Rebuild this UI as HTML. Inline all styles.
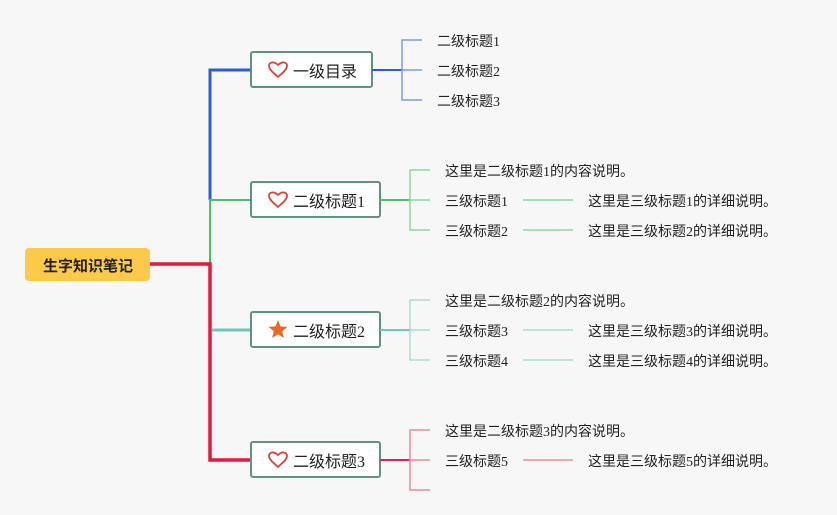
<!DOCTYPE html>
<html><head><meta charset="utf-8"><style>
html,body{margin:0;padding:0;background:#f7f7f7;}
svg{display:block;}
text{font-family:"Liberation Serif","Noto Sans CJK SC",sans-serif;fill:#222;}
</style></head><body>
<svg width="837" height="515" viewBox="0 0 837 515" xmlns="http://www.w3.org/2000/svg">
<defs>
<path id="heart" d="M0,6 C-3,3 -9,-1 -9,-5 C-9,-9 -4,-10 0,-6 C4,-10 9,-9 9,-5 C9,-1 3,3 0,6 Z" fill="none" stroke="#d9473c" stroke-width="1.8" stroke-linejoin="round"/>
</defs>
<path d="M250,70 H210 V200" fill="none" stroke="#2a5ce0" stroke-width="3"/>
<path d="M250,200 H210 V264" fill="none" stroke="#4cbf6a" stroke-width="2"/>
<path d="M150,264 H210 V460 H250" fill="none" stroke="#e8173f" stroke-width="3.5"/>
<path d="M212,330 H250" fill="none" stroke="#6cc9b9" stroke-width="3"/>
<rect x="25" y="248" width="125" height="33" rx="4" fill="#fdc94b"/>
<text x="88" y="271" font-size="15" font-weight="bold" text-anchor="middle" style="font-family:'Liberation Sans','Noto Sans CJK SC',sans-serif">生字知识笔记</text>
<g stroke="#5e9381" stroke-width="2" fill="#fff">
<rect x="251" y="52" width="121" height="35" rx="2"/>
<rect x="251" y="182" width="129" height="35" rx="2"/>
<rect x="251" y="312" width="129" height="35" rx="2"/>
<rect x="251" y="442" width="129" height="35" rx="2"/>
</g>
<use href="#heart" x="278" y="71"/>
<use href="#heart" x="278" y="201"/>
<use href="#heart" x="278" y="461"/>
<polygon points="278,320 280.6,326.4 287.5,326.9 282.2,331.3 283.9,338 278,334.3 272.1,338 273.8,331.3 268.5,326.9 275.4,326.4" fill="#e8692c"/>
<g font-size="16">
<text x="293" y="77">一级目录</text>
<text x="293" y="207">二级标题1</text>
<text x="293" y="337">二级标题2</text>
<text x="293" y="467">二级标题3</text>
</g>
<path d="M372,70 H402" stroke="#2a5ce0" stroke-width="2" fill="none"/>
<path d="M422,40 H402 V100 H422 M402,70 H422" stroke="#7c9ce0" stroke-width="1.5" fill="none"/>
<path d="M380,200 H410" stroke="#4cbf6a" stroke-width="2" fill="none"/>
<path d="M430,170 H410 V230 H430 M410,200 H430" stroke="#8ed99f" stroke-width="1.5" fill="none"/>
<path d="M523,200 H573 M523,230 H573" stroke="#8ed99f" stroke-width="1.5"/>
<path d="M380,330 H410" stroke="#6cc9b9" stroke-width="2" fill="none"/>
<path d="M430,300 H410 V360 H430 M410,330 H430" stroke="#a8ddd3" stroke-width="1.5" fill="none"/>
<path d="M523,330 H573 M523,360 H573" stroke="#a8ddd3" stroke-width="1.5"/>
<path d="M380,460 H410" stroke="#d6294f" stroke-width="2" fill="none"/>
<path d="M430,430 H410 V490 H430 M410,460 H430" stroke="#ea8a9c" stroke-width="1.5" fill="none"/>
<path d="M523,460 H573" stroke="#ea8a9c" stroke-width="1.5"/>
<g font-size="14">
<text x="437" y="46">二级标题1</text>
<text x="437" y="76">二级标题2</text>
<text x="437" y="106">二级标题3</text>
<text x="445" y="176">这里是二级标题1的内容说明。</text>
<text x="445" y="206">三级标题1</text>
<text x="445" y="236">三级标题2</text>
<text x="588" y="206">这里是三级标题1的详细说明。</text>
<text x="588" y="236">这里是三级标题2的详细说明。</text>
<text x="445" y="306">这里是二级标题2的内容说明。</text>
<text x="445" y="336">三级标题3</text>
<text x="445" y="366">三级标题4</text>
<text x="588" y="336">这里是三级标题3的详细说明。</text>
<text x="588" y="366">这里是三级标题4的详细说明。</text>
<text x="445" y="436">这里是二级标题3的内容说明。</text>
<text x="445" y="466">三级标题5</text>
<text x="588" y="466">这里是三级标题5的详细说明。</text>
</g>
</svg>
</body></html>
